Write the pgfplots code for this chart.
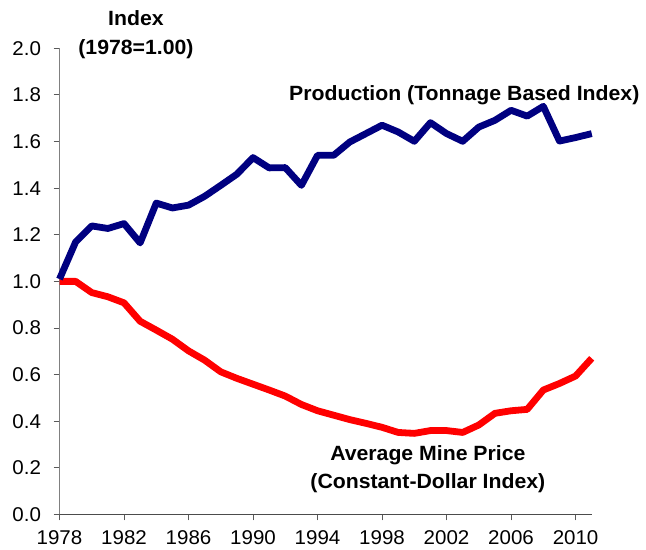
\documentclass[border=0pt]{standalone}
\usepackage{fontspec}
\setmainfont{Liberation Sans}[FakeStretch=1.03]
\usepackage{pgfplots}
\pgfplotsset{compat=1.18}
\definecolor{navyline}{RGB}{0,0,128}
\definecolor{redline}{RGB}{255,0,0}
\begin{document}
\begin{tikzpicture}[x=1bp,y=1bp]
\useasboundingbox (0,0) rectangle (646,550);
\begin{axis}[
  at={(59.5bp,35.5bp)}, anchor=south west,
  scale only axis, width=532.2bp, height=466.2bp,
  xmin=1978, xmax=2011, ymin=0, ymax=2,
  axis x line*=bottom, axis y line*=left,
  x axis line style={black!70, line width=1.1bp},
  y axis line style={black!50, line width=1.3bp},
  xtick={1978,1982,1986,1990,1994,1998,2002,2006,2010},
  ytick={0,0.2,0.4,0.6,0.8,1.0,1.2,1.4,1.6,1.8,2.0},
  tick align=outside, major tick length=6bp,
  tick style={black!65, line width=1bp},
  tick label style={font=\fontsize{20}{24}\selectfont},
  /pgf/number format/assume math mode=true,
  x tick label style={/pgf/number format/1000 sep={}, yshift=-8.5bp, inner ysep=1bp},
  y tick label style={xshift=-9bp, /pgf/number format/fixed, /pgf/number format/fixed zerofill, /pgf/number format/precision=1},
  clip=false,
]
\addplot[redline, line width=6.8bp, line join=round] coordinates {
(1978,1.00) (1979,1.00) (1980,0.952) (1981,0.934) (1982,0.908) (1983,0.829)
(1984,0.791) (1985,0.752) (1986,0.702) (1987,0.662) (1988,0.612) (1989,0.584)
(1990,0.559) (1991,0.534) (1992,0.508) (1993,0.472) (1994,0.445) (1995,0.426)
(1996,0.407) (1997,0.391) (1998,0.374) (1999,0.352) (2000,0.348) (2001,0.360)
(2002,0.360) (2003,0.352) (2004,0.384) (2005,0.434) (2006,0.445) (2007,0.451)
(2008,0.534) (2009,0.562) (2010,0.594) (2011,0.670)
};
\addplot[navyline, line width=6.8bp, line join=round] coordinates {
(1978,1.01) (1979,1.169) (1980,1.238) (1981,1.227) (1982,1.248) (1983,1.165)
(1984,1.336) (1985,1.315) (1986,1.327) (1987,1.365) (1988,1.412) (1989,1.46)
(1990,1.531) (1991,1.487) (1992,1.488) (1993,1.412) (1994,1.541) (1995,1.541)
(1996,1.598) (1997,1.634) (1998,1.67) (1999,1.641) (2000,1.601) (2001,1.681)
(2002,1.634) (2003,1.601) (2004,1.662) (2005,1.691) (2006,1.734) (2007,1.709)
(2008,1.751) (2009,1.602) (2010,1.617) (2011,1.634)
};
\node[font=\fontsize{20.7}{28.5}\selectfont\bfseries, align=center] at (axis cs:1982.74,2.059) {Index\\(1978=1.00)};
\node[font=\fontsize{20.7}{26}\selectfont\bfseries] at (axis cs:2003.1,1.798) {Production (Tonnage Based Index)};
\node[font=\fontsize{20.7}{28}\selectfont\bfseries, align=center] at (axis cs:2000.84,0.195) {Average Mine Price\\(Constant-Dollar Index)};
\end{axis}
\end{tikzpicture}
\end{document}
